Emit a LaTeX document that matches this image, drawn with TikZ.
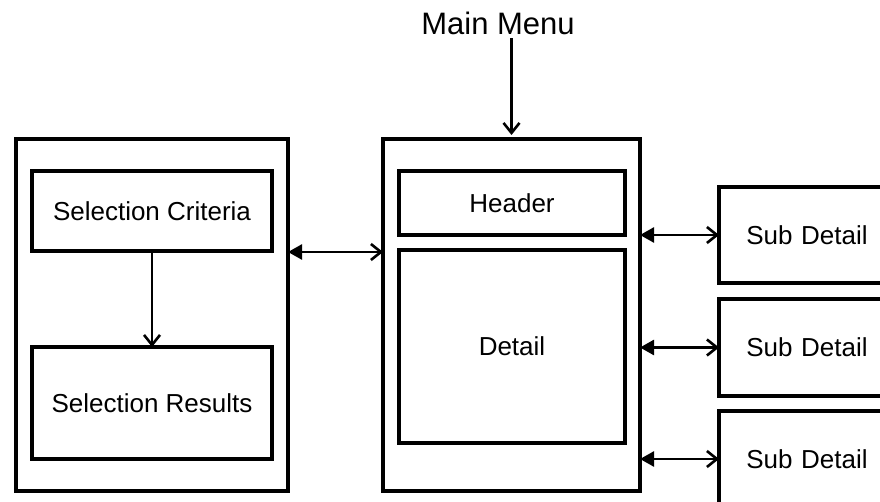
\documentclass[tikz,border=0pt]{standalone}
\usepackage{fontspec}
\setmainfont{Liberation Sans}
\usetikzlibrary{arrows.meta}
\begin{document}
\begin{tikzpicture}[x=1pt,y=-1pt,
  boxs/.style={draw=black,line width=3.1pt,inner sep=0pt,outer sep=0pt,
    font=\fontsize{26}{30}\selectfont,align=center},
  conn/.style={line width=2.6pt},
  opentip/.style={-{Straight Barb[length=10pt,width=16pt]}},
  dbltip/.style={{Triangle[length=14pt,width=15pt]}-{Straight Barb[length=10pt,width=16pt]}},
]
\clip (0,0) rectangle (880,502);
\fill[white] (0,0) rectangle (880,502);
% left
\node[boxs,minimum width=272pt,minimum height=352pt] (lo) at (152,315) {};
\node[boxs,minimum width=240pt,minimum height=80pt] (sc) at (152,211) {Selection Criteria};
\node[boxs,minimum width=240pt,minimum height=112pt] (sr) at (152,403) {Selection Results};
% middle
\node[boxs,minimum width=257pt,minimum height=352pt] (mid) at (511.5,315) {};
\node[boxs,minimum width=226pt,minimum height=64pt] (hd) at (512,203) {Header};
\node[boxs,minimum width=226pt,minimum height=193pt] (dt) at (512,346.5) {Detail};
% sub details
\node[boxs,minimum width=176pt,minimum height=96pt,text width=176pt] (s1) at (807,235) {Sub Detail};
\node[boxs,minimum width=176pt,minimum height=97pt,text width=176pt] (s2) at (807,347.5) {Sub Detail};
\node[boxs,minimum width=176pt,minimum height=96pt,text width=176pt] (s3) at (807,459) {Sub Detail};
% main menu
\node[inner sep=0pt,anchor=base,font=\fontsize{31}{36}\selectfont] (mm) at (498,35) {Main Menu};
% connectors
\draw[conn,opentip,shorten <=3pt,shorten >=4pt]
  (mm.south -| mid.north) -- (mid.north);
\draw[conn,opentip] (sc.south) -- (sr.north);
\draw[conn,dbltip] (lo.east |- 0,252) coordinate (a1) -- (mid.west |- a1);
\draw[conn,dbltip] (mid.east |- s1.west) -- (s1.west);
\draw[conn,dbltip] (mid.east |- s2.west) -- (s2.west);
\draw[conn,dbltip] (mid.east |- s3.west) -- (s3.west);
\end{tikzpicture}
\end{document}
